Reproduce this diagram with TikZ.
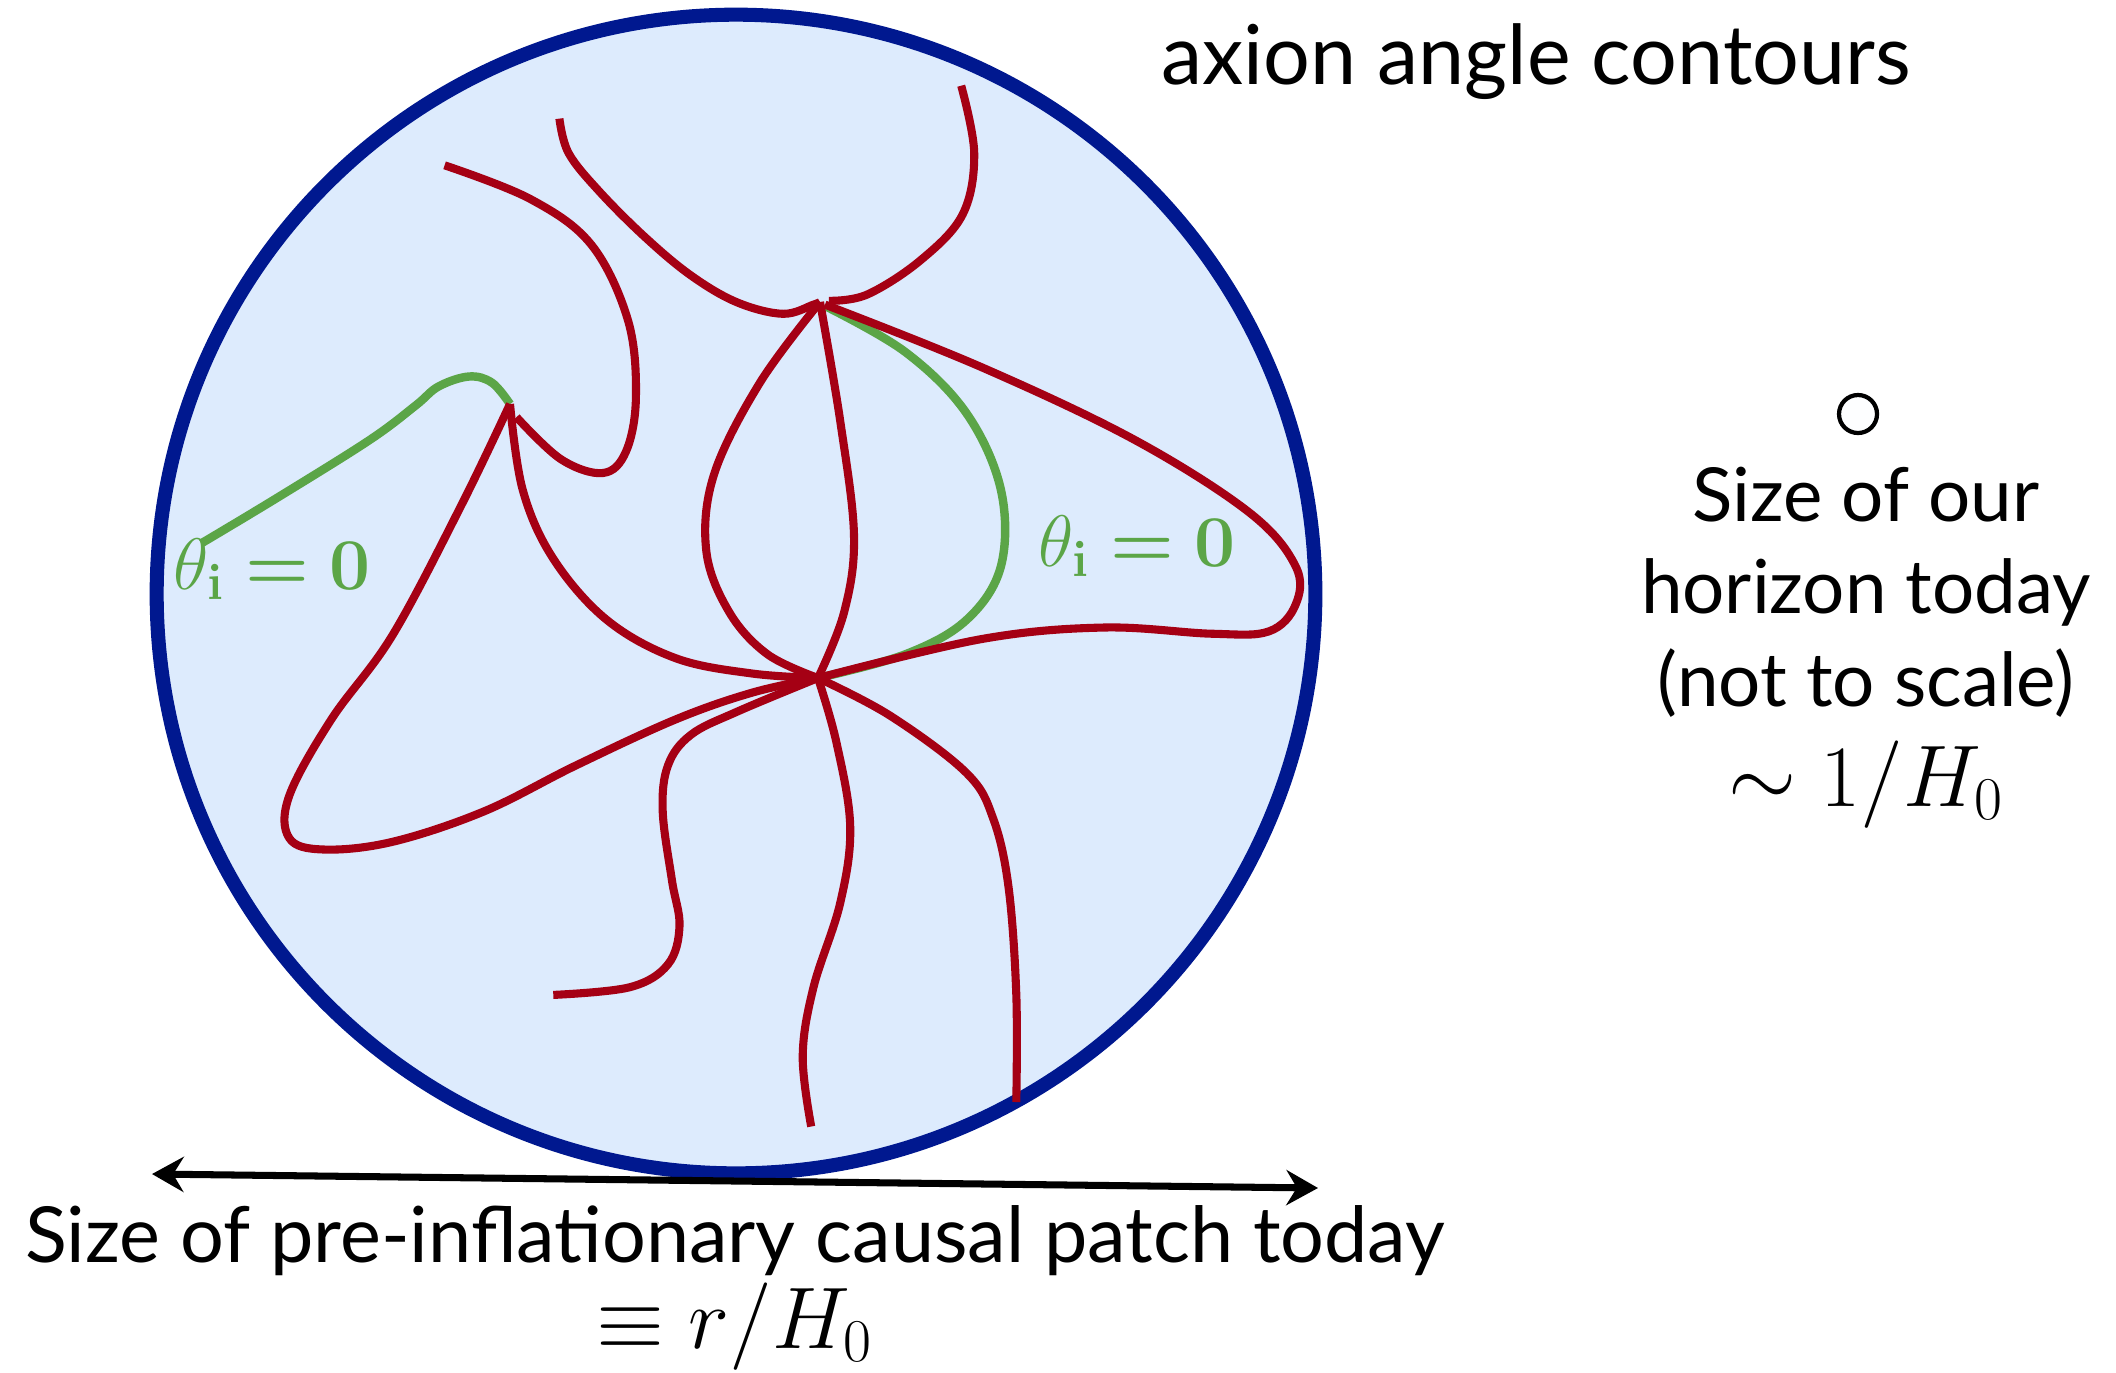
\documentclass[tikz,border=0pt]{standalone}
\usepackage[no-math]{fontspec}
\setmainfont{Lato}
\usepackage{amsmath,bm}
\usetikzlibrary{arrows.meta}
\definecolor{circblue}{RGB}{0,24,143}
\definecolor{circfill}{RGB}{221,235,253}
\definecolor{cred}{RGB}{165,0,20}
\definecolor{cgreen}{RGB}{91,165,71}
\begin{document}
\begin{tikzpicture}[x=0.01cm,y=-0.01cm,
  contour/.style={cred, line width=2.3pt},
  zeroline/.style={cgreen, line width=2.4pt},
  lbl/.style={font=\fontsize{22}{26}\selectfont, anchor=base, inner sep=0pt},
  rlbl/.style={font=\fontsize{21.2}{25}\selectfont, anchor=base, inner sep=0pt},
  ttl/.style={font=\fontsize{23.5}{27}\selectfont, anchor=base, inner sep=0pt},
  mth/.style={font=\fontsize{24}{28}\selectfont, anchor=base, inner sep=0pt},
  glbl/.style={text=cgreen, font=\fontsize{22.5}{26}\selectfont, anchor=base, inner sep=0pt},
  sizearrow/.style={arrows={Stealth[length=9pt,width=10pt,inset=3pt]-Stealth[length=9pt,width=10pt,inset=3pt]}, line width=2pt}]
\useasboundingbox (0,0) rectangle (2116,1372);
% causal patch
\node[circle, draw=circblue, fill=circfill, line width=4pt, minimum size=11.58cm, inner sep=0pt] (patch) at (736,594) {};
\coordinate (A) at (820,302);
\coordinate (B) at (818,678);
\coordinate (C) at (510,404);
% green theta=0 contours
\draw[zeroline] plot[smooth, tension=0.6] coordinates {(C) (492,382.7) (469,376.5) (438.5,386.5) (415.5,405.6) (369.6,440) (277.8,497.4) (201.2,543.4)};
\draw[zeroline] plot[smooth, tension=0.6] coordinates {(825,306) (905.3,352) (966.5,413.3) (1000.9,489.8) (1000.9,566.3) (966.5,619.9) (905.3,654.3) (B)};
% red contours
\draw[contour] plot[smooth, tension=0.6] coordinates {(559.4,118.6) (568.6,153.1) (599.2,191.3) (645.1,237.2) (691,275.5) (737,302.3) (782.9,313.8) (813.5,304.6) (A)};
\draw[contour] plot[smooth, tension=0.6] coordinates {(961.2,85.7) (974.2,153.1) (962.7,214.3) (920.6,260.2) (867,294.6) (828.8,300.8)};
\draw[contour] plot[smooth, tension=0.6] coordinates {(825,304.6) (981.8,367.3) (1134.9,440) (1249.7,512.8) (1295.6,566.3) (1295.6,604.6) (1268.8,631.4) (1211.4,633.7) (1104.3,627.5) (981.8,639) (B)};
\draw[contour] plot[smooth, tension=0.6] coordinates {(A) (759.9,382.7) (714,474.5) (706.3,551) (729.3,612.2) (767.5,654.3) (B)};
\draw[contour] plot[smooth, tension=0.6] coordinates {(A) (840.2,420.9) (854,535.7) (844.1,612.2) (B)};
\draw[contour] plot[smooth, tension=0.6] coordinates {(C) (522.7,489.8) (553.3,558.7) (606.8,619.9) (675.7,658.2) (752.2,673.5) (B)};
\draw[contour] plot[smooth, tension=0.6] coordinates {(C) (461.4,505.1) (392.5,635.2) (331.3,719.4) (289.2,795.9) (289.2,838) (323.7,849.5) (392.5,841.8) (484.4,811.2) (576.2,765.3) (675.7,719.4) (752.2,692.6) (B)};
\draw[contour] plot[smooth, tension=0.6] coordinates {(516.5,417.1) (560.9,459.2) (603,473) (626,451.5) (635.9,398) (628.3,321.4) (591.5,244.9) (530.3,199) (444.6,165.3)};
\draw[contour] plot[smooth, tension=0.6] coordinates {(B) (737,711.7) (691,734.7) (668,765.3) (662.7,811.2) (671.9,880.1) (679.5,926) (668,964.3) (629.8,987.2) (553.3,994.9)};
\draw[contour] plot[smooth, tension=0.6] coordinates {(B) (836.4,742.3) (850.2,826.5) (840.2,903) (813.5,987.2) (802.7,1056.1) (811.2,1126.5)};
\draw[contour] plot[smooth, tension=0.6] coordinates {(B) (890,715.6) (966.5,773) (993.3,818.9) (1008.6,887.7) (1016.3,994.9) (1016.3,1102)};
% labels
\node[glbl] (t1) at (272,589) {$\theta_{\mathbf{i}} \bm{=} \mathbf{0}$};
\node[glbl] (t2) at (1137,566) {$\theta_{\mathbf{i}} \bm{=} \mathbf{0}$};
\node[ttl] (title) at (1536,84) {axion angle contours};
% horizon
\node[circle, draw=black, fill=white!95!circfill, line width=1.2pt, minimum size=0.38cm, inner sep=0pt] (hz) at (1858,414) {};
\node[rlbl] (h1) at (1866,521) {Size of our};
\node[rlbl] (h2) at (1866,613) {horizon today};
\node[rlbl] (h3) at (1866,706) {(not to scale)};
\node[mth] (h4) at (1866,806) {$\sim 1/H_0$};
% size arrow
\coordinate (al) at (152,1174);
\coordinate (ar) at (1318,1188);
\draw[sizearrow] (al) -- (ar);
\node[lbl, text depth=0pt] (p1) at (735,1262) {Size of pre-inflationary causal patch today};
\node[mth] (p2) at (735,1348) {$\equiv r/H_0$};
\end{tikzpicture}
\end{document}
